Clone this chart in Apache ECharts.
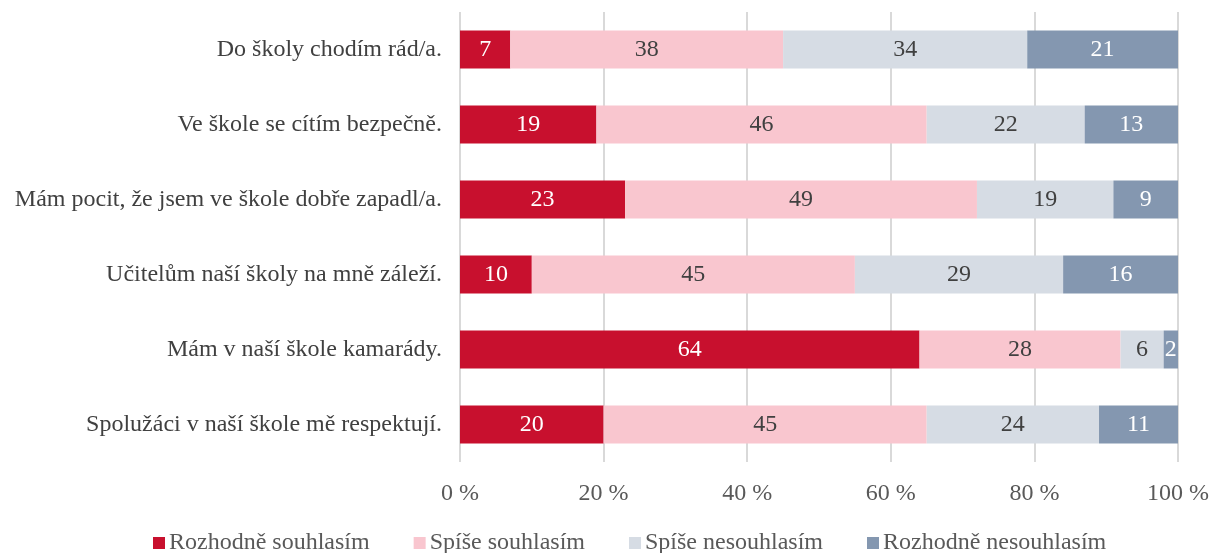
<!DOCTYPE html>
<html><head><meta charset="utf-8">
<script src="https://cdn.jsdelivr.net/npm/echarts@6/dist/echarts.min.js"></script>
<style>html,body{margin:0;padding:0;background:#fff}#c{width:1212px;height:553px}</style>
</head><body><div id="c"></div>
<script>
const categories = ["Do školy chodím rád/a.","Ve škole se cítím bezpečně.","Mám pocit, že jsem ve škole dobře zapadl/a.","Učitelům naší školy na mně záleží.","Mám v naší škole kamarády.","Spolužáci v naší škole mě respektují."];
const seriesNames = ["Rozhodně souhlasím","Spíše souhlasím","Spíše nesouhlasím","Rozhodně nesouhlasím"];
const rozhodneSouhlasim = [7,19,23,10,64,20];
const spiseSouhlasim = [38,46,49,45,28,45];
const spiseNesouhlasim = [34,22,19,29,6,24];
const rozhodneNesouhlasim = [21,13,9,16,2,11];
const xTicks = [0,20,40,60,80,100];

const colors = ['#C8102E','#F9C6CF','#D6DCE4','#8497B0'];
const labelColors = ['#ffffff','#404040','#404040','#ffffff'];
const font = '"Liberation Serif", "Times New Roman", serif';
const values = [rozhodneSouhlasim, spiseSouhlasim, spiseNesouhlasim, rozhodneNesouhlasim];

const chart = echarts.init(document.getElementById('c'));
chart.setOption({
  animation:false,
  textStyle:{fontFamily:font},
  grid:{left:460,right:32,top:12,height:450,containLabel:false},
  legend:{bottom:-7,left:148,itemWidth:12,itemHeight:12,itemGap:44,icon:'rect',
    textStyle:{fontFamily:font,fontSize:24,color:'#595959',padding:[0,0,0,-1]},data:seriesNames},
  xAxis:{type:'value',min:0,max:100,interval:20,
    axisLabel:{formatter:v=>v+' %',fontFamily:font,fontSize:24,color:'#595959',margin:20},
    splitLine:{show:true,lineStyle:{color:'#D9D9D9',width:2}},
    axisLine:{show:false},axisTick:{show:false}},
  yAxis:{type:'category',inverse:true,data:categories,
    axisLine:{show:false},axisTick:{show:false},
    axisLabel:{fontFamily:font,fontSize:24,color:'#404040',margin:18}},
  series: seriesNames.map((n,i)=>({
    name:n,type:'bar',stack:'s',barWidth:38,
    itemStyle:{color:colors[i]},
    label:{show:true,position:'inside',color:labelColors[i],fontFamily:font,fontSize:24},
    data:values[i]
  }))
});
</script></body></html>
